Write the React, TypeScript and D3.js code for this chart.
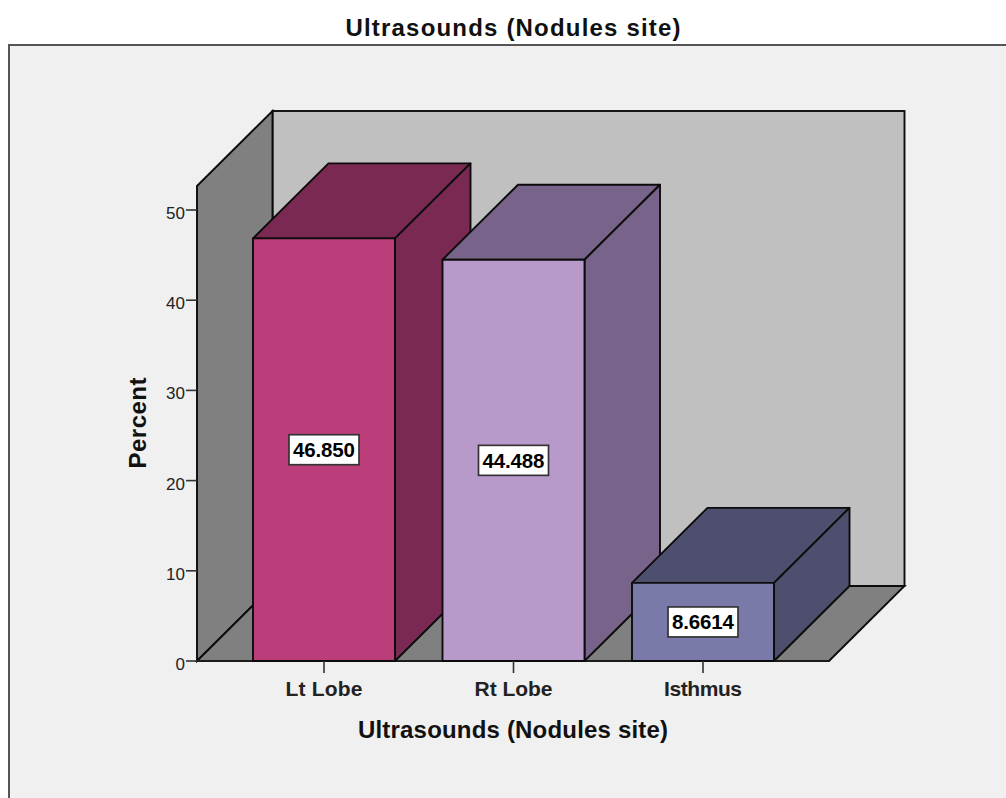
import React from "react";
import * as d3 from "d3";

const categories = ["Lt Lobe", "Rt Lobe", "Isthmus"];
const values = [46.85, 44.488, 8.6614];
const valueLabels = ["46.850", "44.488", "8.6614"];
const frontColors = ["#BB3D7A", "#B89ACA", "#7A7AAA"];
const sideColors = ["#7A2A52", "#78648A", "#4E4F6E"];
const topColors = ["#7A2A52", "#78648A", "#4E4F6E"];
const yTicks = [0, 10, 20, 30, 40, 50];
const catLabelWidths = [77, 78, 78];

const W = 1006, H = 798;
const DX = 75.5, DY = -75;
const plotL = 197, plotR = 829, baseY = 661, frontTop = 186;
const BAR_W = 142;

const y = d3.scaleLinear().domain([0, 50]).range([baseY, 210]);
const x = d3.scalePoint<string>().domain(categories).range([324, 703]);
const poly = d3.line<[number, number]>();
const stroke = "#0c0c0c";
const sw = 1.9;

const LABEL = "'Liberation Sans', Arial, sans-serif";

export default function App() {
  return (
    <svg width={W} height={H} style={{ position: "absolute", left: 0, top: 0 }} fontFamily={LABEL}>
      <rect width={W} height={H} fill="#fff" />
      <rect x={9} y={45} width={W} height={H} fill="#F0F0F0" stroke="#555" strokeWidth={2} />
      <text x={513} y={36} textAnchor="middle" fontSize={24} fontWeight="bold" fill="#111" textLength={335} lengthAdjust="spacing">
        Ultrasounds (Nodules site)
      </text>

      {/* back wall */}
      <rect x={plotL + DX} y={frontTop + DY} width={plotR - plotL} height={baseY - frontTop} fill="#C0C0C0" stroke={stroke} strokeWidth={sw} />
      {/* left wall */}
      <path
        d={poly([[plotL, frontTop], [plotL + DX, frontTop + DY], [plotL + DX, baseY + DY], [plotL, baseY]])! + "Z"}
        fill="#808080" stroke={stroke} strokeWidth={sw}
      />
      {/* floor */}
      <path
        d={poly([[plotL, baseY], [plotL + DX, baseY + DY], [plotR + DX, baseY + DY], [plotR, baseY]])! + "Z"}
        fill="#808080" stroke={stroke} strokeWidth={sw}
      />

      {/* y axis */}
      {yTicks.map((t) => (
        <g key={t}>
          <line x1={plotL - 11} x2={plotL} y1={y(t)} y2={y(t)} stroke="#333" strokeWidth={1.6} />
          <text x={185} y={y(t) + 9} textAnchor="end" fontSize={17} fill="#222">{t}</text>
        </g>
      ))}
      <line x1={plotL} x2={plotR} y1={baseY} y2={baseY} stroke="#222" strokeWidth={1.6} />

      {/* bars */}
      {categories.map((c, i) => {
        const cx = x(c)!;
        const l = cx - BAR_W / 2, r = cx + BAR_W / 2, t = y(values[i]);
        return (
          <g key={c} stroke={stroke} strokeWidth={sw} strokeLinejoin="round">
            <path d={poly([[l, t], [l + DX, t + DY], [r + DX, t + DY], [r, t]])! + "Z"} fill={topColors[i]} />
            <path d={poly([[r, t], [r + DX, t + DY], [r + DX, baseY + DY], [r, baseY]])! + "Z"} fill={sideColors[i]} />
            <rect x={l} y={t} width={BAR_W} height={baseY - t} fill={frontColors[i]} />
          </g>
        );
      })}

      {/* value labels */}
      {categories.map((c, i) => {
        const cx = x(c)!;
        const cy = (y(values[i]) + baseY) / 2;
        return (
          <g key={c + "-label"}>
            <rect x={cx - 35} y={cy - 15} width={70} height={30} fill="#fff" stroke="#333" strokeWidth={1.7} />
            <text x={cx} y={cy + 7.5} textAnchor="middle" fontSize={20.5} fontWeight="bold" fill="#000" textLength={62} lengthAdjust="spacing">{valueLabels[i]}</text>
          </g>
        );
      })}

      {/* x ticks and labels */}
      {categories.map((c, i) => (
        <g key={c + "-tick"}>
          <line x1={x(c)!} x2={x(c)!} y1={baseY} y2={baseY + 12} stroke="#333" strokeWidth={1.6} />
          <text x={x(c)!} y={696} textAnchor="middle" fontSize={21} fontWeight="bold" fill="#222" textLength={catLabelWidths[i]} lengthAdjust="spacing">{c}</text>
        </g>
      ))}

      <text x={513} y={738} textAnchor="middle" fontSize={24} fontWeight="bold" fill="#111" textLength={310} lengthAdjust="spacing">
        Ultrasounds (Nodules site)
      </text>
      <text transform="translate(146,423) rotate(-90)" textAnchor="middle" fontSize={24} fontWeight="bold" fill="#111" textLength={91} lengthAdjust="spacing">
        Percent
      </text>
    </svg>
  );
}
